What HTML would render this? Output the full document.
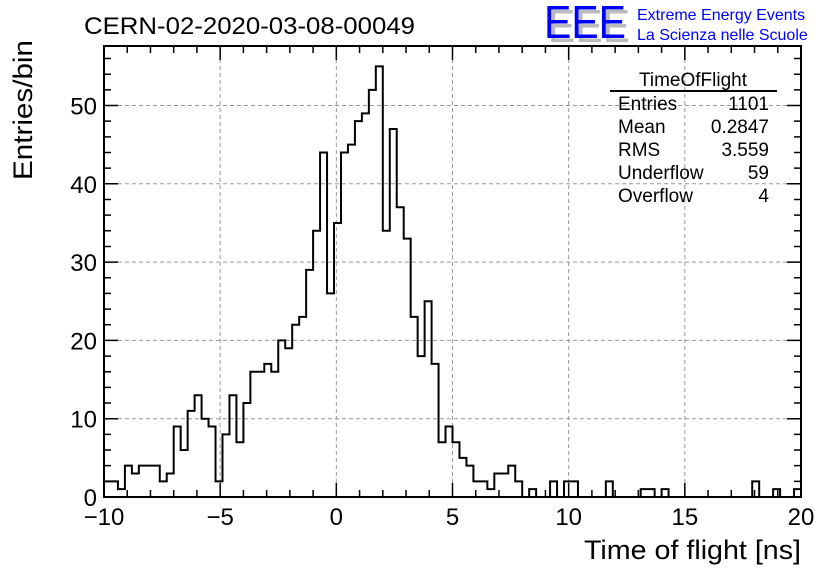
<!DOCTYPE html>
<html><head><meta charset="utf-8"><style>
body{margin:0;background:#fff;}
svg{display:block;font-family:"Liberation Sans",sans-serif;}
</style></head><body>
<svg width="836" height="572" viewBox="0 0 836 572">
<rect width="836" height="572" fill="#fff"/>
<g id="grid"></g>
<g id="ticks"></g>
<path id="hist" fill="none" stroke="#000" stroke-width="2"/>
<rect x="104" y="46" width="697" height="451" fill="none" stroke="#000" stroke-width="2"/>
<g id="labels" font-size="24"></g>
<text x="84" y="34" font-size="24.5" textLength="331" lengthAdjust="spacingAndGlyphs">CERN-02-2020-03-08-00049</text>
<g>
<text x="548" y="42" font-size="46" fill="#bbb" textLength="82" lengthAdjust="spacingAndGlyphs">EEE</text>
<text x="544" y="38" font-size="46" fill="#0000ff" textLength="82" lengthAdjust="spacingAndGlyphs">EEE</text>
<text x="637" y="20" font-size="16" fill="#0000ff">Extreme Energy Events</text>
<text x="637" y="40" font-size="16" fill="#0000ff">La Scienza nelle Scuole</text>
</g>
<text x="801" y="559" font-size="27" text-anchor="end" textLength="217" lengthAdjust="spacingAndGlyphs">Time of flight [ns]</text>
<text transform="translate(32,180) rotate(-90)" font-size="27" textLength="140" lengthAdjust="spacingAndGlyphs">Entries/bin</text>
<g font-size="19">
<text x="693" y="86" text-anchor="middle">TimeOfFlight</text>
<line x1="610" y1="91" x2="777" y2="91" stroke="#000" stroke-width="2"/>
<text x="618" y="110">Entries</text><text x="769" y="110" text-anchor="end">1101</text>
<text x="618" y="133">Mean</text><text x="769" y="133" text-anchor="end">0.2847</text>
<text x="618" y="156">RMS</text><text x="769" y="156" text-anchor="end">3.559</text>
<text x="618" y="179">Underflow</text><text x="769" y="179" text-anchor="end">59</text>
<text x="618" y="202">Overflow</text><text x="769" y="202" text-anchor="end">4</text>
</g>
</svg>
<script>
const binLow = -10, binWidth = 0.3;
const counts = [2,2,1,4,3,4,4,4,2,3, 9,6,11,13,10,9,2,8,13,7, 12,16,16,17,16,20,19,22,23,29, 34,44,26,35,44,45,48,49,52,55, 34,47,37,33,23,18,25,17,7,9, 7,5,4,2,2,1,3,3,4,2, 0,1,0,0,2,0,2,2,0,0, 0,0,2,0,0,0,0,1,1,0, 1,0,0,0,0,0,0,0,0,0, 0,0,0,2,0,0,1,0,0,1];
const xTicks = [-10,-5,0,5,10,15,20];
const yTicks = [0,10,20,30,40,50];
const X0=104,X1=801,Y0=497,Y1=46,xmin=-10,xmax=20,ymax=57.6;
const sx=v=>X0+(v-xmin)/(xmax-xmin)*(X1-X0);
const sy=v=>Y0-v/ymax*(Y0-Y1);
const NS='http://www.w3.org/2000/svg';
function mk(tag,attrs,parent){const e=document.createElementNS(NS,tag);for(const k in attrs)e.setAttribute(k,attrs[k]);parent.appendChild(e);return e;}
const grid=document.getElementById('grid'),ticks=document.getElementById('ticks'),labels=document.getElementById('labels');
xTicks.forEach(t=>{
 if(t>xmin&&t<xmax){const l=mk('line',{x1:sx(t),x2:sx(t),y1:Y0,y2:Y1,stroke:'#999','stroke-dasharray':'4,3','stroke-width':1},grid);
 
 }
 const tx=mk('text',{x:sx(t),y:525,'text-anchor':'middle'},labels);
 tx.textContent=(t<0?'\u2212'+(-t):t);
 
 
});
yTicks.forEach(t=>{
 if(t>0){const l=mk('line',{x1:X0,x2:X1,y1:sy(t),y2:sy(t),stroke:'#999','stroke-dasharray':'4,3','stroke-width':1},grid);
 
 }
 const tx=mk('text',{x:97,y:sy(t)+9,'text-anchor':'end'},labels);
 tx.textContent=t;
 
 
});
let d='';
for(let v=xmin;v<=xmax;v++){const L=(v%5===0)?14:7;const x=sx(v);d+=`M${x},${Y0}v${-L}M${x},${Y1}v${L}`;}
for(let v=0;v<=ymax;v+=2){const L=(v%10===0)?14:7;const y=sy(v);d+=`M${X0},${y}h${L}M${X1},${y}h${-L}`;}
mk('path',{d:d,stroke:'#000','stroke-width':1.5,fill:'none'},ticks);
let p=`M${sx(binLow)},${sy(0)}`;
counts.forEach((c,i)=>{const a=sx(binLow+i*binWidth),b=sx(binLow+(i+1)*binWidth);p+=`L${a},${sy(c)}L${b},${sy(c)}`;});
p+=`L${sx(binLow+counts.length*binWidth)},${sy(0)}`;
document.getElementById('hist').setAttribute('d',p);
</script>
</body></html>
